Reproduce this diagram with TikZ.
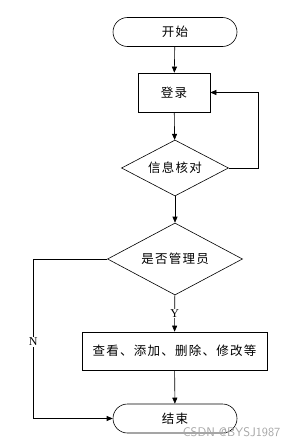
\documentclass[tikz,border=0pt]{standalone}
\usepackage{fontspec}
\setmainfont{Liberation Serif}
\newfontfamily\cjk[LetterSpace=10]{Noto Sans CJK SC}
\usetikzlibrary{arrows.meta,shapes.geometric}

\begin{document}
\begin{tikzpicture}[x=1pt, y=-1pt, >={Triangle[length=6pt,width=5pt]},
	   line width=0.6pt,
	   term/.style={draw, rectangle, rounded corners=14.5pt, minimum width=124pt, minimum height=29pt, font=\cjk\fontsize{12.5}{14}\selectfont},
	   proc/.style={draw, rectangle, inner sep=0pt, minimum height=38pt, font=\cjk\fontsize{12.5}{14}\selectfont},
	   dec/.style={draw, diamond, aspect=2, inner sep=0pt, font=\cjk\fontsize{12.5}{14}\selectfont},
	   lbl/.style={fill=white, inner sep=1pt, font=\fontsize{12}{14}\selectfont}]
	  \useasboundingbox (0,0) rectangle (298,447);
	  \node[term] (start) at (175,32) {开始};
	  \node[proc, minimum width=72pt, minimum height=39pt] (login) at (174,92.5) {登录};
	  \node[dec, minimum width=107pt, minimum height=56pt] (check) at (175,168) {信息核对};
	  \node[dec, minimum width=135pt, minimum height=72pt] (admin) at (175,259) {是否管理员};
	  \node[proc, minimum width=185pt] (ops) at (174.5,351) {查看、添加、删除、修改等};
	  \node[term] (end) at (175,418.5) {结束};
	  \draw[->] (start)--(login); \draw[->] (login)--(check); \draw[->] (check)--(admin); \draw[->] (ops)--(end);
	  \draw[->] (check.east) -- ++(29,0) |- (login.east);
	  \draw[->] (admin) -- node[lbl, pos=0.5] (yes) {Y} (ops);
	  \draw[->] (admin.west) -- ++(-74,0) |- node[lbl, pos=0.26] (no) {N} (end.west);
	  \node[text=gray!70, font=\sffamily\fontsize{12.5}{13}\selectfont, anchor=east] (mark) at (284,432) {CSDN @BYSJ1987};
	\end{tikzpicture}
\end{document}
